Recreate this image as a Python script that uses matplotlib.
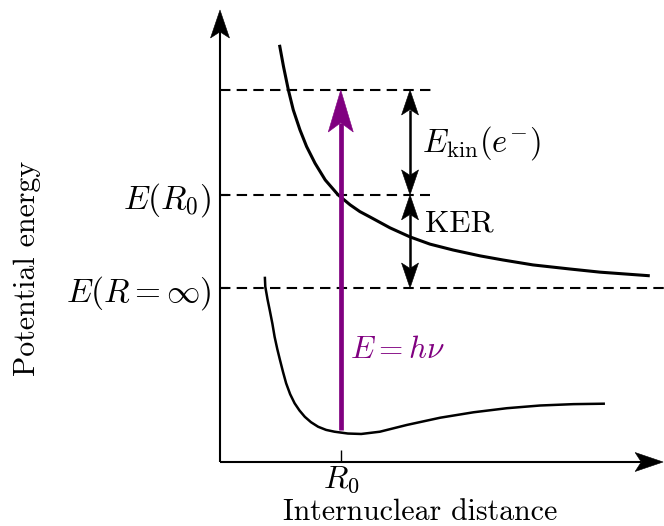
import matplotlib
matplotlib.use("Agg")
import matplotlib.pyplot as plt
import matplotlib.transforms as mtransforms
from matplotlib.patches import Polygon
import numpy as np

plt.rcParams.update({
    "font.family": "serif",
    "font.serif": ["cmr10"],
    "mathtext.fontset": "cm",
    "axes.formatter.use_mathtext": True,
    "font.size": 21.5,
})

# Repulsive (dissociative) potential curve
r_upper = [1.34, 1.43, 1.54, 1.65, 1.80, 1.95, 2.14, 2.37, 2.66, 2.93, 3.15,
           3.38, 3.83, 4.28, 4.73, 5.25, 5.86, 6.37, 7.05, 7.88, 8.56, 9.68]
e_upper = [9.23, 8.75, 8.23, 7.79, 7.35, 6.98, 6.61, 6.24, 5.91, 5.69, 5.54,
           5.42, 5.18, 4.98, 4.82, 4.69, 4.56, 4.47, 4.36, 4.27, 4.20, 4.12]

# Bound ground-state potential curve
r_lower = [1.01, 1.02, 1.07, 1.12, 1.18, 1.23, 1.29, 1.35, 1.42, 1.49, 1.58,
           1.68, 1.79, 1.91, 2.05, 2.21, 2.39, 2.58, 2.88, 3.18, 3.60, 4.21,
           4.96, 5.71, 6.46, 7.21, 7.96, 8.67]
e_lower = [4.10, 3.88, 3.60, 3.36, 3.06, 2.77, 2.50, 2.26, 1.99, 1.74, 1.50,
           1.30, 1.14, 1.00, 0.88, 0.78, 0.71, 0.67, 0.63, 0.62, 0.67, 0.82,
           0.98, 1.10, 1.19, 1.25, 1.28, 1.29]

R0 = 2.72            # equilibrium distance
E_R0 = 5.91          # repulsive energy at R0
E_inf = 3.85         # dissociation limit
E_top = 8.23         # photon energy level
E_base = 0.71        # start of the photon arrow
x_gap = 4.28         # position of the energy-difference arrows
x_dash_top = 4.77
x_dash_mid = 4.73

xtick_pos = [R0]
xtick_labels = [r"$R_0$"]
ytick_pos = [E_inf, E_R0]
ytick_labels = [r"$E(R=\infty)$", r"$E(R_0)$"]

PURPLE = "#800080"
MATH_SIZE = 24

fig = plt.figure(figsize=(6.64, 5.26), dpi=100)
ax = fig.add_axes([220 / 664, 64 / 526, 444 / 664, 452 / 526])
ax.set_xlim(0, 10)
ax.set_ylim(0, 10)
for s in ax.spines.values():
    s.set_visible(False)


def offset(x, y, dx_px, dy_px):
    p = ax.transData.transform((x, y)) + np.array([dx_px, dy_px])
    return ax.transData.inverted().transform(p)


def head(x, y, direction, length, width, color):
    L, W = length / 100.0, width / 100.0
    pts = np.array([[0, 0], [-W / 2, -L], [0, -0.78 * L], [W / 2, -L]])
    th = np.deg2rad({"up": 0, "down": 180, "right": -90}[direction])
    rot = np.array([[np.cos(th), -np.sin(th)], [np.sin(th), np.cos(th)]])
    pts = pts @ rot.T
    trans = fig.dpi_scale_trans + mtransforms.ScaledTranslation(x, y, ax.transData)
    ax.add_patch(Polygon(pts, closed=True, facecolor=color, edgecolor=color,
                         lw=0.4, transform=trans, clip_on=False, zorder=5))


# axes with arrow heads
ax_lw = 1.5
notch_y = offset(0, 10, 0, -0.78 * 28)[1]
ax.plot([0, 0], [0, notch_y], color="black", lw=ax_lw, clip_on=False,
        solid_capstyle="butt")
head(0, 10, "up", 28, 19, "black")
notch_x = offset(9.98, 0, -0.78 * 28, 0)[0]
ax.plot([0, notch_x], [0, 0], color="black", lw=ax_lw, clip_on=False,
        solid_capstyle="butt")
head(9.98, 0, "right", 28, 19, "black")

# ticks
ax.set_xticks(xtick_pos, xtick_labels, fontsize=23)
ax.set_yticks(ytick_pos, ytick_labels, fontsize=MATH_SIZE)
ax.tick_params(axis="x", direction="in", length=8.5, width=1.0, pad=1.5)
ax.tick_params(axis="y", direction="in", length=6, width=1.5, pad=6)

# dashed energy levels
dash = (0, (5, 3))
ax.plot([0, x_dash_top], [E_top, E_top], color="black", lw=1.5, ls=dash)
ax.plot([0, x_dash_mid], [E_R0, E_R0], color="black", lw=1.5, ls=dash)
ax.plot([0, 10], [E_inf, E_inf], color="black", lw=1.5, ls=dash)

# potential curves
ax.plot(r_upper, e_upper, color="black", lw=2.2, solid_capstyle="butt",
        solid_joinstyle="round")
ax.plot(r_lower, e_lower, color="black", lw=1.8, solid_capstyle="butt",
        solid_joinstyle="round")

# photon arrow
ph_len, ph_w = 42, 25
ph_notch = offset(R0, E_top, 0, -0.78 * ph_len)[1]
ax.plot([R0, R0], [E_base, ph_notch], color=PURPLE, lw=3.4,
        solid_capstyle="butt", zorder=4)
head(R0, E_top, "up", ph_len, ph_w, PURPLE)


def double_arrow(x, y0, y1):
    hl, hw = 25, 17
    a = offset(x, y0, 0, 0.78 * hl)[1]
    b = offset(x, y1, 0, -0.78 * hl)[1]
    ax.plot([x, x], [a, b], color="black", lw=1.8, solid_capstyle="butt",
            zorder=4)
    head(x, y0, "down", hl, hw, "black")
    head(x, y1, "up", hl, hw, "black")


double_arrow(x_gap, E_R0, E_top)
double_arrow(x_gap, E_inf, E_R0)

# annotations
ax.text(4.55, 7.06, r"$E_{\mathrm{kin}}(e^{-})$", ha="left", va="center",
        fontsize=23.5)
ax.text(4.62, 5.27, "KER", ha="left", va="center", fontsize=22.5)
ax.text(2.93, 2.48, r"$E = h\nu$", ha="left", va="center", color=PURPLE,
        fontsize=22.5)

ax.set_xlabel("Internuclear distance")
ax.xaxis.set_label_coords(0.45, -0.08)
fig.text(27 / 664, 1 - 268 / 526, "Potential energy", rotation=90,
         ha="center", va="center")

fig.savefig("out.png", dpi=100)
